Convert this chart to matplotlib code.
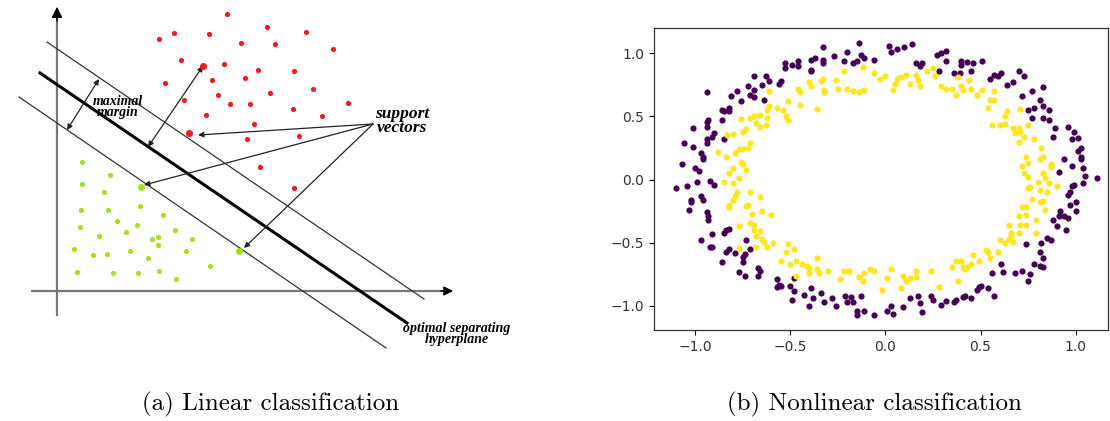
import numpy as np
import matplotlib
matplotlib.use("Agg")
import matplotlib.pyplot as plt

# ---- (a) schematic, in diagram pixel units (y grows downward) ----
red_pts = [
    (159, 39), (174, 33), (209, 34), (227, 14), (181, 60), (224, 64), (165, 83),
    (212, 80), (184, 100), (218, 95), (230, 104), (206, 115), (267, 27), (306, 32),
    (241, 43), (275, 44), (333, 49), (258, 70), (294, 71), (245, 78), (270, 93),
    (313, 89), (250, 104), (348, 103), (293, 109), (322, 116), (254, 124),
    (299, 136), (247, 139), (260, 167), (294, 188),
]
red_support = [(203, 66), (189, 133)]
green_pts = [
    (82, 162), (110, 175), (82, 184), (104, 192), (81, 210), (108, 210), (140, 206),
    (163, 215), (117, 221), (137, 225), (80, 227), (126, 232), (99, 236), (175, 230),
    (152, 239), (158, 237), (158, 245), (192, 239), (74, 249), (93, 255), (107, 254),
    (130, 251), (148, 258), (186, 251), (210, 266), (77, 272), (113, 273),
    (138, 273), (159, 271), (176, 279),
]
green_support = [(141, 187), (239, 251)]

upper_margin = [(47, 42), (424, 299)]
hyperplane = [(40, 73), (407, 323)]
lower_margin = [(19, 97), (386, 348)]
margin_arrow = [(99, 79), (67, 130)]
sv_arrow = [(203, 66), (148, 147)]
sv_label_origin = (373, 124)
sv_targets = [(198, 135), (144, 185), (244, 248)]

# ---- (b) two noisy rings ----
outer_ring = [
    (-0.94, 0.69), (-1.10, -0.07), (-1.07, 0.12), (-1.06, 0.29), (-1.01, 0.41), (-1.01, 0.26),
    (-1.00, 0.09), (-0.99, -0.02), (-0.98, 0.07), (-0.97, 0.21), (-0.96, 0.18), (-0.96, 0.16),
    (-0.94, 0.46), (-0.94, 0.42), (-0.93, 0.47), (-0.94, 0.32), (-0.94, 0.29), (-0.91, 0.34),
    (-0.90, 0.37), (-0.92, -0.01), (-0.90, -0.04), (-0.86, 0.55), (-0.85, 0.54), (-0.82, 0.57),
    (-0.82, 0.54), (-0.85, 0.32), (-0.86, 0.47), (-0.81, 0.66), (-0.78, 0.70), (-0.76, 0.62),
    (-0.72, 0.74), (-0.71, 0.67), (-0.69, 0.71), (-0.69, 0.82), (-0.69, 0.65), (-0.65, 0.75),
    (-0.63, 0.82), (-0.64, 0.63), (-0.61, 0.78), (-0.56, 0.76), (-0.55, 0.78), (-0.53, 0.92),
    (-0.53, 0.88), (-0.49, 0.91), (-0.46, 0.94), (-0.46, 0.90), (-0.39, 0.95), (-0.39, 0.87),
    (-0.39, 0.86), (-0.37, 0.96), (-0.33, 1.05), (-0.33, 0.95), (-0.33, 0.92), (-0.27, 0.98),
    (-0.22, 0.94), (-0.20, 1.01), (-0.17, 0.92), (-0.15, 0.94), (-0.14, 1.08), (-0.13, 0.99),
    (-0.11, 0.96), (-0.06, 0.95), (0.02, 1.06), (0.03, 1.01), (0.06, 1.03), (0.10, 1.05),
    (0.14, 1.07), (0.16, 0.92), (0.18, 0.90), (0.19, 0.92), (0.27, 0.99), (0.29, 1.00),
    (0.32, 1.02), (0.32, 0.94), (0.28, 0.86), (0.36, 0.84), (0.39, 0.84), (0.40, 0.94),
    (0.40, 0.91), (0.43, 0.93), (0.46, 0.92), (0.51, 0.94), (0.45, 0.86), (0.55, 0.80),
    (0.57, 0.83), (0.59, 0.82), (0.61, 0.84), (0.64, 0.75), (0.67, 0.77), (0.70, 0.86),
    (0.73, 0.82), (0.72, 0.66), (0.77, 0.70), (0.83, 0.73), (0.81, 0.63), (0.83, 0.58),
    (0.78, 0.57), (0.75, 0.55), (0.77, 0.49), (0.83, 0.49), (0.86, 0.55), (0.86, 0.47),
    (0.89, 0.41), (0.88, 0.34), (0.96, 0.42), (0.99, 0.38), (0.98, 0.32), (1.01, 0.33),
    (1.03, 0.25), (1.01, 0.23), (0.94, 0.16), (0.98, 0.11), (1.03, 0.18), (1.03, 0.16),
    (1.04, 0.09), (1.05, 0.03), (1.11, 0.01), (1.04, -0.03), (0.99, -0.04), (0.91, 0.06),
    (-1.04, -0.05), (-1.02, -0.16), (-1.02, -0.18), (-0.97, -0.13), (-0.96, -0.16), (-1.03, -0.24),
    (-0.94, -0.26), (-0.93, -0.29), (-0.93, -0.32), (-0.91, -0.43), (-0.97, -0.48), (-0.92, -0.53),
    (-0.91, -0.53), (-0.85, -0.42), (-0.84, -0.40), (-0.82, -0.39), (-0.86, -0.65), (-0.84, -0.57),
    (-0.82, -0.55), (-0.79, -0.58), (-0.75, -0.61), (-0.74, -0.59), (-0.75, -0.65), (-0.73, -0.48),
    (-0.71, -0.55), (-0.77, -0.73), (-0.74, -0.76), (-0.67, -0.70), (-0.66, -0.72), (-0.67, -0.76),
    (-0.57, -0.79), (-0.56, -0.83), (-0.57, -0.85), (-0.55, -0.84), (-0.50, -0.84), (-0.48, -0.88),
    (-0.48, -0.78), (-0.49, -0.95), (-0.43, -0.91), (-0.40, -1.00), (-0.39, -0.86), (-0.38, -0.94),
    (-0.34, -0.90), (-0.32, -0.97), (-0.28, -0.94), (-0.26, -1.00), (-0.21, -0.92), (-0.20, -0.97),
    (-0.18, -0.93), (-0.17, -0.97), (-0.15, -1.07), (-0.15, -1.04), (-0.13, -0.92),
    (-0.11, -1.04), (-0.06, -1.07), (0.01, -1.04), (0.03, -1.00), (0.04, -1.06), (0.09, -1.01),
    (0.13, -0.94), (0.17, -0.92), (0.18, -0.98), (0.19, -1.05), (0.24, -0.92), (0.25, -0.95),
    (0.29, -0.99), (0.32, -0.96), (0.36, -0.97), (0.37, -0.95), (0.41, -0.93), (0.42, -0.92),
    (0.45, -0.94), (0.48, -0.87), (0.49, -0.85), (0.50, -0.84), (0.54, -0.86), (0.57, -0.92),
    (0.56, -0.74), (0.61, -0.67), (0.62, -0.73), (0.68, -0.74), (0.72, -0.72), (0.75, -0.80),
    (0.76, -0.75), (0.78, -0.67), (0.81, -0.68), (0.83, -0.69), (0.81, -0.57), (0.83, -0.62),
    (0.74, -0.51), (0.82, -0.50), (0.85, -0.46), (0.87, -0.48), (0.88, -0.32), (0.90, -0.37),
    (0.91, -0.29), (0.92, -0.25), (0.94, -0.29), (0.96, -0.30), (0.95, -0.40), (0.97, -0.20),
    (1.00, -0.18), (1.00, -0.25), (0.96, -0.12), (0.97, -0.10), (0.98, -0.05),
]
inner_ring = [
    (-0.88, 0.22), (-0.84, 0.18), (-0.83, 0.35), (-0.80, 0.36), (-0.79, 0.21), (-0.77, 0.24),
    (-0.82, 0.05), (-0.80, 0.09), (-0.76, 0.14), (-0.75, 0.12), (-0.73, 0.08), (-0.75, 0.24),
    (-0.72, 0.25), (-0.75, 0.38), (-0.73, 0.40), (-0.71, 0.29), (-0.76, 0.48), (-0.71, 0.49),
    (-0.69, 0.50), (-0.68, 0.45), (-0.66, 0.42), (-0.66, 0.51), (-0.63, 0.43), (-0.62, 0.49),
    (-0.62, 0.55), (-0.61, 0.58), (-0.61, 0.70), (-0.57, 0.57), (-0.54, 0.55), (-0.52, 0.50),
    (-0.51, 0.47), (-0.51, 0.62), (-0.45, 0.59), (-0.46, 0.72), (-0.45, 0.69), (-0.40, 0.77),
    (-0.39, 0.74), (-0.36, 0.56), (-0.34, 0.78), (-0.33, 0.80), (-0.32, 0.71), (-0.32, 0.69),
    (-0.26, 0.79), (-0.25, 0.72), (-0.22, 0.86), (-0.20, 0.72), (-0.17, 0.70), (-0.14, 0.69),
    (-0.85, -0.02), (-0.80, -0.03), (-0.77, 0.01),
    (-0.12, 0.89), (-0.11, 0.71), (-0.06, 0.84), (-0.03, 0.80), (0.00, 0.82), (0.04, 0.71),
    (0.05, 0.76), (0.06, 0.80), (0.08, 0.81), (0.11, 0.83), (0.13, 0.76), (0.16, 0.83),
    (0.17, 0.79), (0.18, 0.74), (0.22, 0.86), (0.25, 0.88), (0.26, 0.82), (0.29, 0.74),
    (0.32, 0.72), (0.35, 0.72), (0.37, 0.67), (0.38, 0.81), (0.40, 0.74), (0.41, 0.71),
    (0.44, 0.79), (0.45, 0.72), (0.48, 0.67), (0.51, 0.71), (0.55, 0.63), (0.57, 0.63),
    (0.54, 0.57), (0.57, 0.70), (0.63, 0.50), (0.64, 0.54), (0.56, 0.43), (0.60, 0.43),
    (0.63, 0.44), (0.67, 0.41), (0.68, 0.37), (0.70, 0.41), (0.71, 0.38), (0.71, 0.56),
    (0.75, 0.43), (0.73, 0.34), (0.70, 0.30), (0.78, 0.32), (0.82, 0.25), (0.83, 0.18),
    (0.81, 0.16), (0.74, 0.18), (0.75, 0.13), (0.72, 0.11), (0.87, 0.12), (0.87, 0.10),
    (0.73, 0.05), (0.75, 0.02), (0.83, 0.05), (0.84, 0.01), (0.80, -0.02), (0.86, -0.03),
    (0.90, -0.05), (0.75, -0.07),
    (-0.78, -0.10), (-0.79, -0.13), (-0.80, -0.16), (-0.82, -0.20), (-0.82, -0.22), (-0.71, -0.10),
    (-0.73, -0.21), (-0.72, -0.20), (-0.66, -0.14), (-0.70, -0.27), (-0.65, -0.25), (-0.60, -0.28),
    (-0.71, -0.34), (-0.69, -0.36), (-0.69, -0.40), (-0.66, -0.41), (-0.68, -0.45), (-0.65, -0.47),
    (-0.64, -0.49), (-0.62, -0.53), (-0.77, -0.37), (-0.77, -0.54), (-0.68, -0.53), (-0.59, -0.50),
    (-0.55, -0.64), (-0.51, -0.51), (-0.52, -0.57), (-0.48, -0.55), (-0.50, -0.67), (-0.47, -0.64),
    (-0.44, -0.67), (-0.41, -0.68), (-0.40, -0.70), (-0.40, -0.74), (-0.36, -0.62), (-0.36, -0.71),
    (-0.35, -0.74), (-0.30, -0.72), (-0.47, -0.76), (-0.24, -0.79), (-0.22, -0.72), (-0.19, -0.72),
    (-0.14, -0.77),
    (-0.12, -0.80), (-0.11, -0.74), (-0.08, -0.71), (-0.06, -0.72), (-0.02, -0.87), (0.01, -0.78),
    (0.03, -0.71), (0.08, -0.86), (0.09, -0.76), (0.11, -0.80), (0.13, -0.78), (0.16, -0.72),
    (0.16, -0.77), (0.24, -0.72), (0.28, -0.85), (0.35, -0.69), (0.37, -0.64), (0.38, -0.80),
    (0.40, -0.64), (0.41, -0.69), (0.42, -0.71), (0.43, -0.69), (0.45, -0.67), (0.46, -0.60),
    (0.49, -0.64), (0.53, -0.56), (0.54, -0.57), (0.55, -0.62), (0.59, -0.57), (0.60, -0.48),
    (0.63, -0.50), (0.65, -0.47), (0.66, -0.45), (0.66, -0.42), (0.67, -0.49), (0.65, -0.36),
    (0.70, -0.42), (0.71, -0.36), (0.74, -0.36), (0.70, -0.29), (0.74, -0.28), (0.72, -0.22),
    (0.74, -0.22), (0.79, -0.42), (0.79, -0.32), (0.84, -0.24), (0.81, -0.18), (0.77, -0.15),
    (0.76, -0.06), (0.81, -0.08), (0.85, -0.10), (0.83, -0.17),
]
ring_ticks = [-1.0, -0.5, 0.0, 0.5, 1.0]

RED = "#ee1c25"
GREEN = "#a8e020"
PURPLE = "#440154"
YELLOW = "#fde725"
label_font = dict(family="Liberation Serif", style="italic", weight="bold", color="black")

fig = plt.figure(figsize=(11.1, 4.21), dpi=100)

# ---------------- (a) ----------------
W, H = 555, 370
ax = fig.add_axes([0, 1 - H / 421, W / 1110, H / 421])
ax.set_xlim(0, W)
ax.set_ylim(H, 0)
ax.axis("off")

# coordinate axes with arrow heads
ax.plot([57, 57], [315, 18], color="#777777", lw=1.6, zorder=1)
ax.annotate("", xy=(57, 4), xytext=(57, 24),
            arrowprops=dict(arrowstyle="-|>", color="black", lw=1, mutation_scale=16))
ax.plot([32, 442], [291, 291], color="#777777", lw=1.6, zorder=1)
ax.annotate("", xy=(456, 291), xytext=(438, 291),
            arrowprops=dict(arrowstyle="-|>", color="black", lw=1, mutation_scale=14))

for seg in (upper_margin, lower_margin):
    (x0, y0), (x1, y1) = seg
    ax.plot([x0, x1], [y0, y1], color="#333333", lw=0.9, zorder=2)
(x0, y0), (x1, y1) = hyperplane
ax.plot([x0, x1], [y0, y1], color="black", lw=2.2, zorder=2)

for a, b in (margin_arrow, sv_arrow):
    ax.annotate("", xy=a, xytext=b,
                arrowprops=dict(arrowstyle="<|-|>", color="#222222", lw=0.9,
                                mutation_scale=8, shrinkA=0, shrinkB=0))
for tgt in sv_targets:
    ax.annotate("", xy=tgt, xytext=sv_label_origin,
                arrowprops=dict(arrowstyle="-|>", color="#222222", lw=0.9,
                                mutation_scale=8, shrinkA=0, shrinkB=0))

rx, ry = zip(*red_pts)
ax.scatter(rx, ry, s=14, color=RED, linewidths=0, zorder=3)
rx, ry = zip(*red_support)
ax.scatter(rx, ry, s=26, color=RED, linewidths=0, zorder=3)
gx, gy = zip(*green_pts)
ax.scatter(gx, gy, s=14, color=GREEN, linewidths=0, zorder=3)
gx, gy = zip(*green_support)
ax.scatter(gx, gy, s=26, color=GREEN, linewidths=0, zorder=3)

ax.text(118, 107, "maximal\nmargin", ha="center", va="center", fontsize=10,
        linespacing=0.8, **label_font)
ax.text(402, 121, "support\nvectors", ha="center", va="center", fontsize=12.5,
        linespacing=0.8, **label_font)
ax.text(457, 334, "optimal separating\nhyperplane", ha="center", va="center",
        fontsize=10, linespacing=0.75, clip_on=False, **label_font)

fig.text(271 / 1110, 1 - 404 / 421, "(a) Linear classification", ha="center",
         va="center", fontsize=18, family="cmr10")

# ---------------- (b) ----------------
bx = fig.add_axes([654 / 1110, 1 - 330 / 421, 454 / 1110, 302 / 421])
outer = np.array(outer_ring)
inner = np.array(inner_ring)
bx.scatter(outer[:, 0], outer[:, 1], s=20, color=PURPLE, linewidths=0)
bx.scatter(inner[:, 0], inner[:, 1], s=20, color=YELLOW, linewidths=0)
bx.set_xlim(-1.216, 1.17)
bx.set_ylim(-1.19, 1.2)
bx.set_xticks(ring_ticks)
bx.set_yticks(ring_ticks)
bx.tick_params(labelsize=10, labelcolor="#333333", length=3.5, width=0.8)
for sp in bx.spines.values():
    sp.set_color("#333333")
    sp.set_linewidth(0.9)

fig.text(874 / 1110, 1 - 404 / 421, "(b) Nonlinear classification", ha="center",
         va="center", fontsize=18, family="cmr10")

fig.savefig("out.png", dpi=100)
